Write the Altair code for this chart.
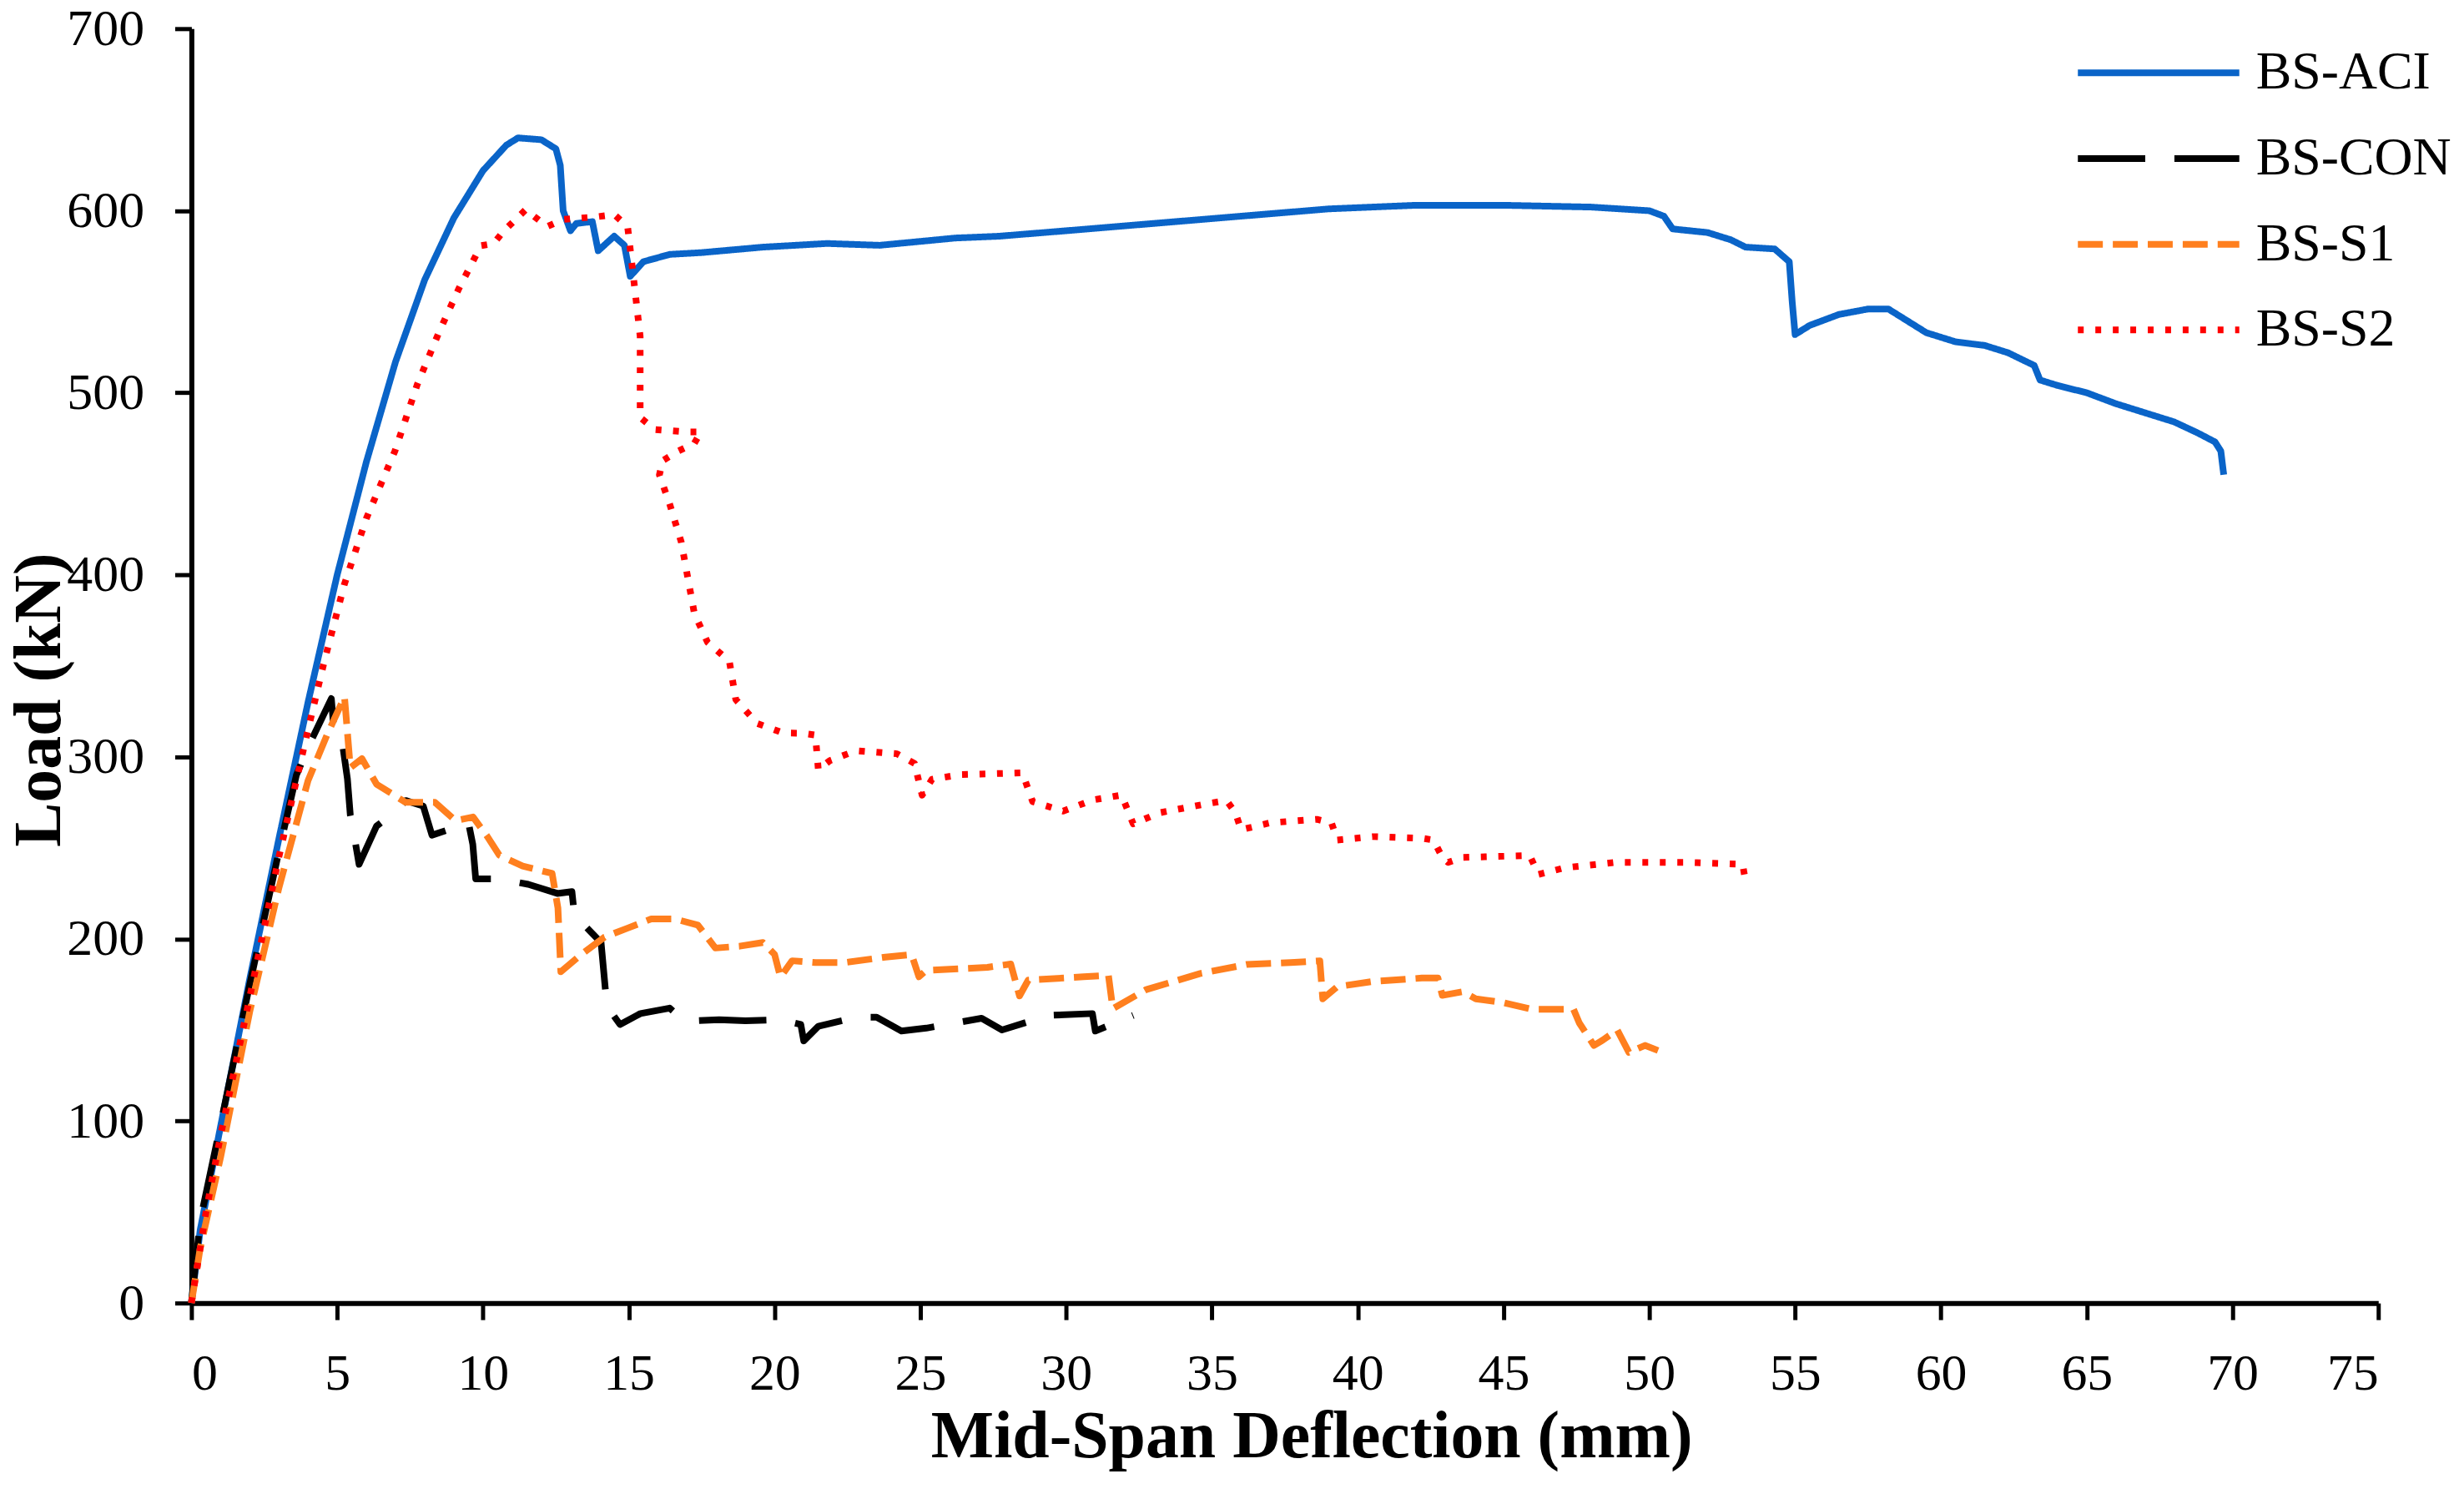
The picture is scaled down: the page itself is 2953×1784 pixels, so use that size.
import altair as alt
import pandas as pd

series_names = ["BS-ACI", "BS-CON", "BS-S1", "BS-S2"]
series_colors = ["#0A64C8", "#000000", "#FF7F1E", "#FF0000"]
series_dashes = [[1, 0], [81, 35], [30, 12], [7, 14]]

aci_x = [0, 0.3, 1, 2, 3, 4, 5, 6, 7, 8, 9, 10, 10.8, 11.2, 12.0, 12.5, 12.65, 12.75, 13.0, 13.2,
         13.75, 13.95, 14.5, 14.85, 15.05, 15.5, 16.4, 17.5, 19.6, 21.8, 23.6, 26.2, 27.7, 30, 33,
         36, 39, 42, 45, 48, 50, 50.5, 50.8, 52, 52.8, 53.3, 54.3, 54.8, 54.9, 55.0, 55.5, 56.5,
         57.5, 58.2, 58.8, 59.5, 60.5, 61.5, 62.3, 63.2, 63.4, 64, 65, 66, 67, 68, 68.8, 69.4,
         69.6, 69.7]
aci_y = [0, 40, 97, 178, 255, 330, 400, 462, 517, 562, 596, 622, 636, 640, 639, 634, 625, 600, 589,
         593, 594, 578, 586, 581, 564, 572, 576, 577, 580, 582, 581, 585, 586, 589, 593, 597, 601,
         603, 603, 602, 600, 597, 590, 588, 584, 580, 579, 572, 550, 532, 537, 543, 546, 546, 540,
         533, 528, 526, 522, 515, 507, 504, 500, 494, 489, 484, 478, 473, 468, 455]

con_x = [0, 0.3, 1, 2, 3, 3.6, 4.05, 4.5, 4.8, 4.9, 5.2, 5.35, 5.45, 5.6, 5.75, 6.35, 7.0, 7.35,
         7.95, 8.25, 9.2, 9.5, 9.65, 9.75, 10.55, 11.55, 12.55, 13.05, 13.15, 13.45, 14.05, 14.25,
         14.7, 15.4, 16.4, 16.8, 17.25, 18.1, 19.0, 20.2, 20.9, 21.0, 21.5, 22.8, 23.5, 24.35,
         25.2, 27.1, 27.8, 29.4, 30.9, 31.0, 32.3]
con_y = [0, 45, 98, 175, 248, 290, 307, 322, 332, 312, 305, 288, 268, 255, 241, 262, 270, 276, 273,
         257, 262, 264, 252, 233, 233, 230, 225, 226, 211, 208, 198, 163, 153, 159, 162, 156.5,
         155, 155.6, 155, 155.6, 153, 144, 152, 157, 157, 149.4, 151, 156.4, 150, 158, 159, 149.4,
         158]

s1_x = [0, 0.3, 1, 2, 3, 4, 4.65, 5.25, 5.45, 5.85, 6.35, 7.35, 8.35, 9.06, 9.66, 10.16, 10.56,
        11.36, 12.37, 12.57, 12.67, 13.37, 14.17, 14.97, 15.77, 16.57, 17.37, 17.97, 18.8, 19.6,
        20.0, 20.2, 20.6, 21.4, 22.4, 23.8, 24.7, 24.95, 25.2, 27.3, 28.1, 28.4, 28.7, 30.6, 31.45,
        31.6, 32.75, 34.6, 36.2, 37.7, 38.7, 38.8, 39.3, 40.5, 42.2, 42.75, 42.9, 43.6, 44.05,
        45.0, 45.95, 47.4, 47.6, 48.1, 48.4, 48.9, 49.3, 49.85, 50.3]
s1_y = [0, 30, 80, 160, 228, 287, 312, 333, 294, 299, 285, 275, 275, 265, 267, 256, 246, 240, 236,
        217, 182, 191.5, 201, 206, 211, 211, 207.6, 195, 196, 198, 191.5, 179, 188, 187, 187, 190,
        191.4, 179.2, 182.7, 184.4, 186.2, 168.7, 177.4, 179.2, 180, 161.7, 172.2, 181, 186, 187,
        188, 167.1, 173.8, 176.6, 178.5, 178.5, 169, 171, 167.1, 165, 161.4, 161.4, 153.8, 141.5,
        144.4, 150, 137.7, 141.5, 138.7]

s2_x = [0, 0.5, 1, 2, 3, 4, 4.55, 5.24, 6.0, 6.98, 7.75, 8.5, 9.17, 9.93, 10.37, 10.7, 11.46,
        12.2, 12.77, 13.86, 14.5, 14.96, 15.28, 15.39, 15.39, 15.9, 17.0, 17.47, 17.24, 16.7,
        16.16, 16.05, 16.4, 16.8, 17.25, 17.7, 18.45, 18.67, 19.4, 20.3, 20.96, 21.4, 21.5, 21.9,
        22.8, 24.2, 24.8, 25.06, 25.4, 26.4, 28.5, 28.85, 29.9, 30.9, 31.9, 32.3, 33.2, 34.8,
        35.5, 35.8, 36.0, 37.0, 38.6, 39.1, 39.3, 40.5, 42.2, 42.6, 42.9, 43.1, 43.6, 45.9, 46.2,
        47.1, 48.8, 51.4, 53.2, 53.3]
s2_y = [0, 50, 92, 168, 245, 315, 352, 394.5, 431, 468, 504.7, 533.6, 557.2, 580.8, 582, 588.7,
        600.5, 591.3, 595.3, 596.6, 597.9, 591.3, 546.7, 531, 486.4, 479.8, 478.5, 478.5, 472,
        468, 462.7, 454.9, 439, 418, 378.7, 363, 352.5, 331.5, 318.4, 313.1, 313, 312, 293, 298,
        303.4, 301.7, 296.4, 279, 287.7, 290.3, 291.2, 275.4, 270.2, 276.3, 279, 263.2, 269.3,
        274.2, 276, 269.5, 260, 263.8, 265.7, 263.8, 254.3, 256.2, 255.3, 254.3, 244.8, 242,
        244.8, 245.8, 235.4, 239.1, 242, 242, 241, 231.6]

rows = []
for name, xs, ys in zip(series_names, [aci_x, con_x, s1_x, s2_x], [aci_y, con_y, s1_y, s2_y]):
    for i, (xv, yv) in enumerate(zip(xs, ys)):
        rows.append({"series": name, "idx": i, "defl": xv, "load": yv})
df = pd.DataFrame(rows)

FONT = "Liberation Serif"

chart = alt.Chart(df).mark_line(strokeWidth=8, strokeJoin="round").encode(
    x=alt.X("defl:Q", scale=alt.Scale(domain=[0, 75], nice=False),
            axis=alt.Axis(title="Mid-Span Deflection (mm)", values=list(range(0, 80, 5)),
                          grid=False, titleX=1346, titleY=185, titleBaseline="alphabetic",
                          titleAlign="center", labelPadding=35, tickSize=20)),
    y=alt.Y("load:Q", scale=alt.Scale(domain=[0, 700], nice=False),
            axis=alt.Axis(title="Load (kN)", values=list(range(0, 800, 100)), grid=False,
                          titleX=-182, titleY=806, titleAngle=270, titleAlign="center",
                          titleBaseline="middle", labelPadding=37, tickSize=20)),
    color=alt.Color("series:N", scale=alt.Scale(domain=series_names, range=series_colors),
                    legend=alt.Legend(title=None)),
    strokeDash=alt.StrokeDash("series:N", scale=alt.Scale(domain=series_names, range=series_dashes),
                              legend=alt.Legend(title=None)),
    order=alt.Order("idx:Q"),
).properties(
    width=2628, height=1531,
    autosize=alt.AutoSizeParams(type="none"),
    padding={"left": 222, "top": 24, "right": 95, "bottom": 221},
).configure_view(stroke=None).configure_axis(
    labelFont=FONT, labelFontSize=62, labelColor="#000000",
    titleFont=FONT, titleFontSize=80, titleFontWeight="bold", titleColor="#000000",
    domainColor="#000000", domainWidth=6, tickColor="#000000", tickWidth=5,
).configure_legend(
    orient="none", legendX=2263, legendY=21, padding=0,
    labelFont=FONT, labelFontSize=64, labelColor="#000000", labelOffset=16, labelLimit=0,
    symbolType="stroke", symbolSize=37636, symbolStrokeWidth=8,
    clipHeight=64, rowPadding=39,
)

chart.save("out.html", embed_options={"renderer": "svg", "actions": False})
